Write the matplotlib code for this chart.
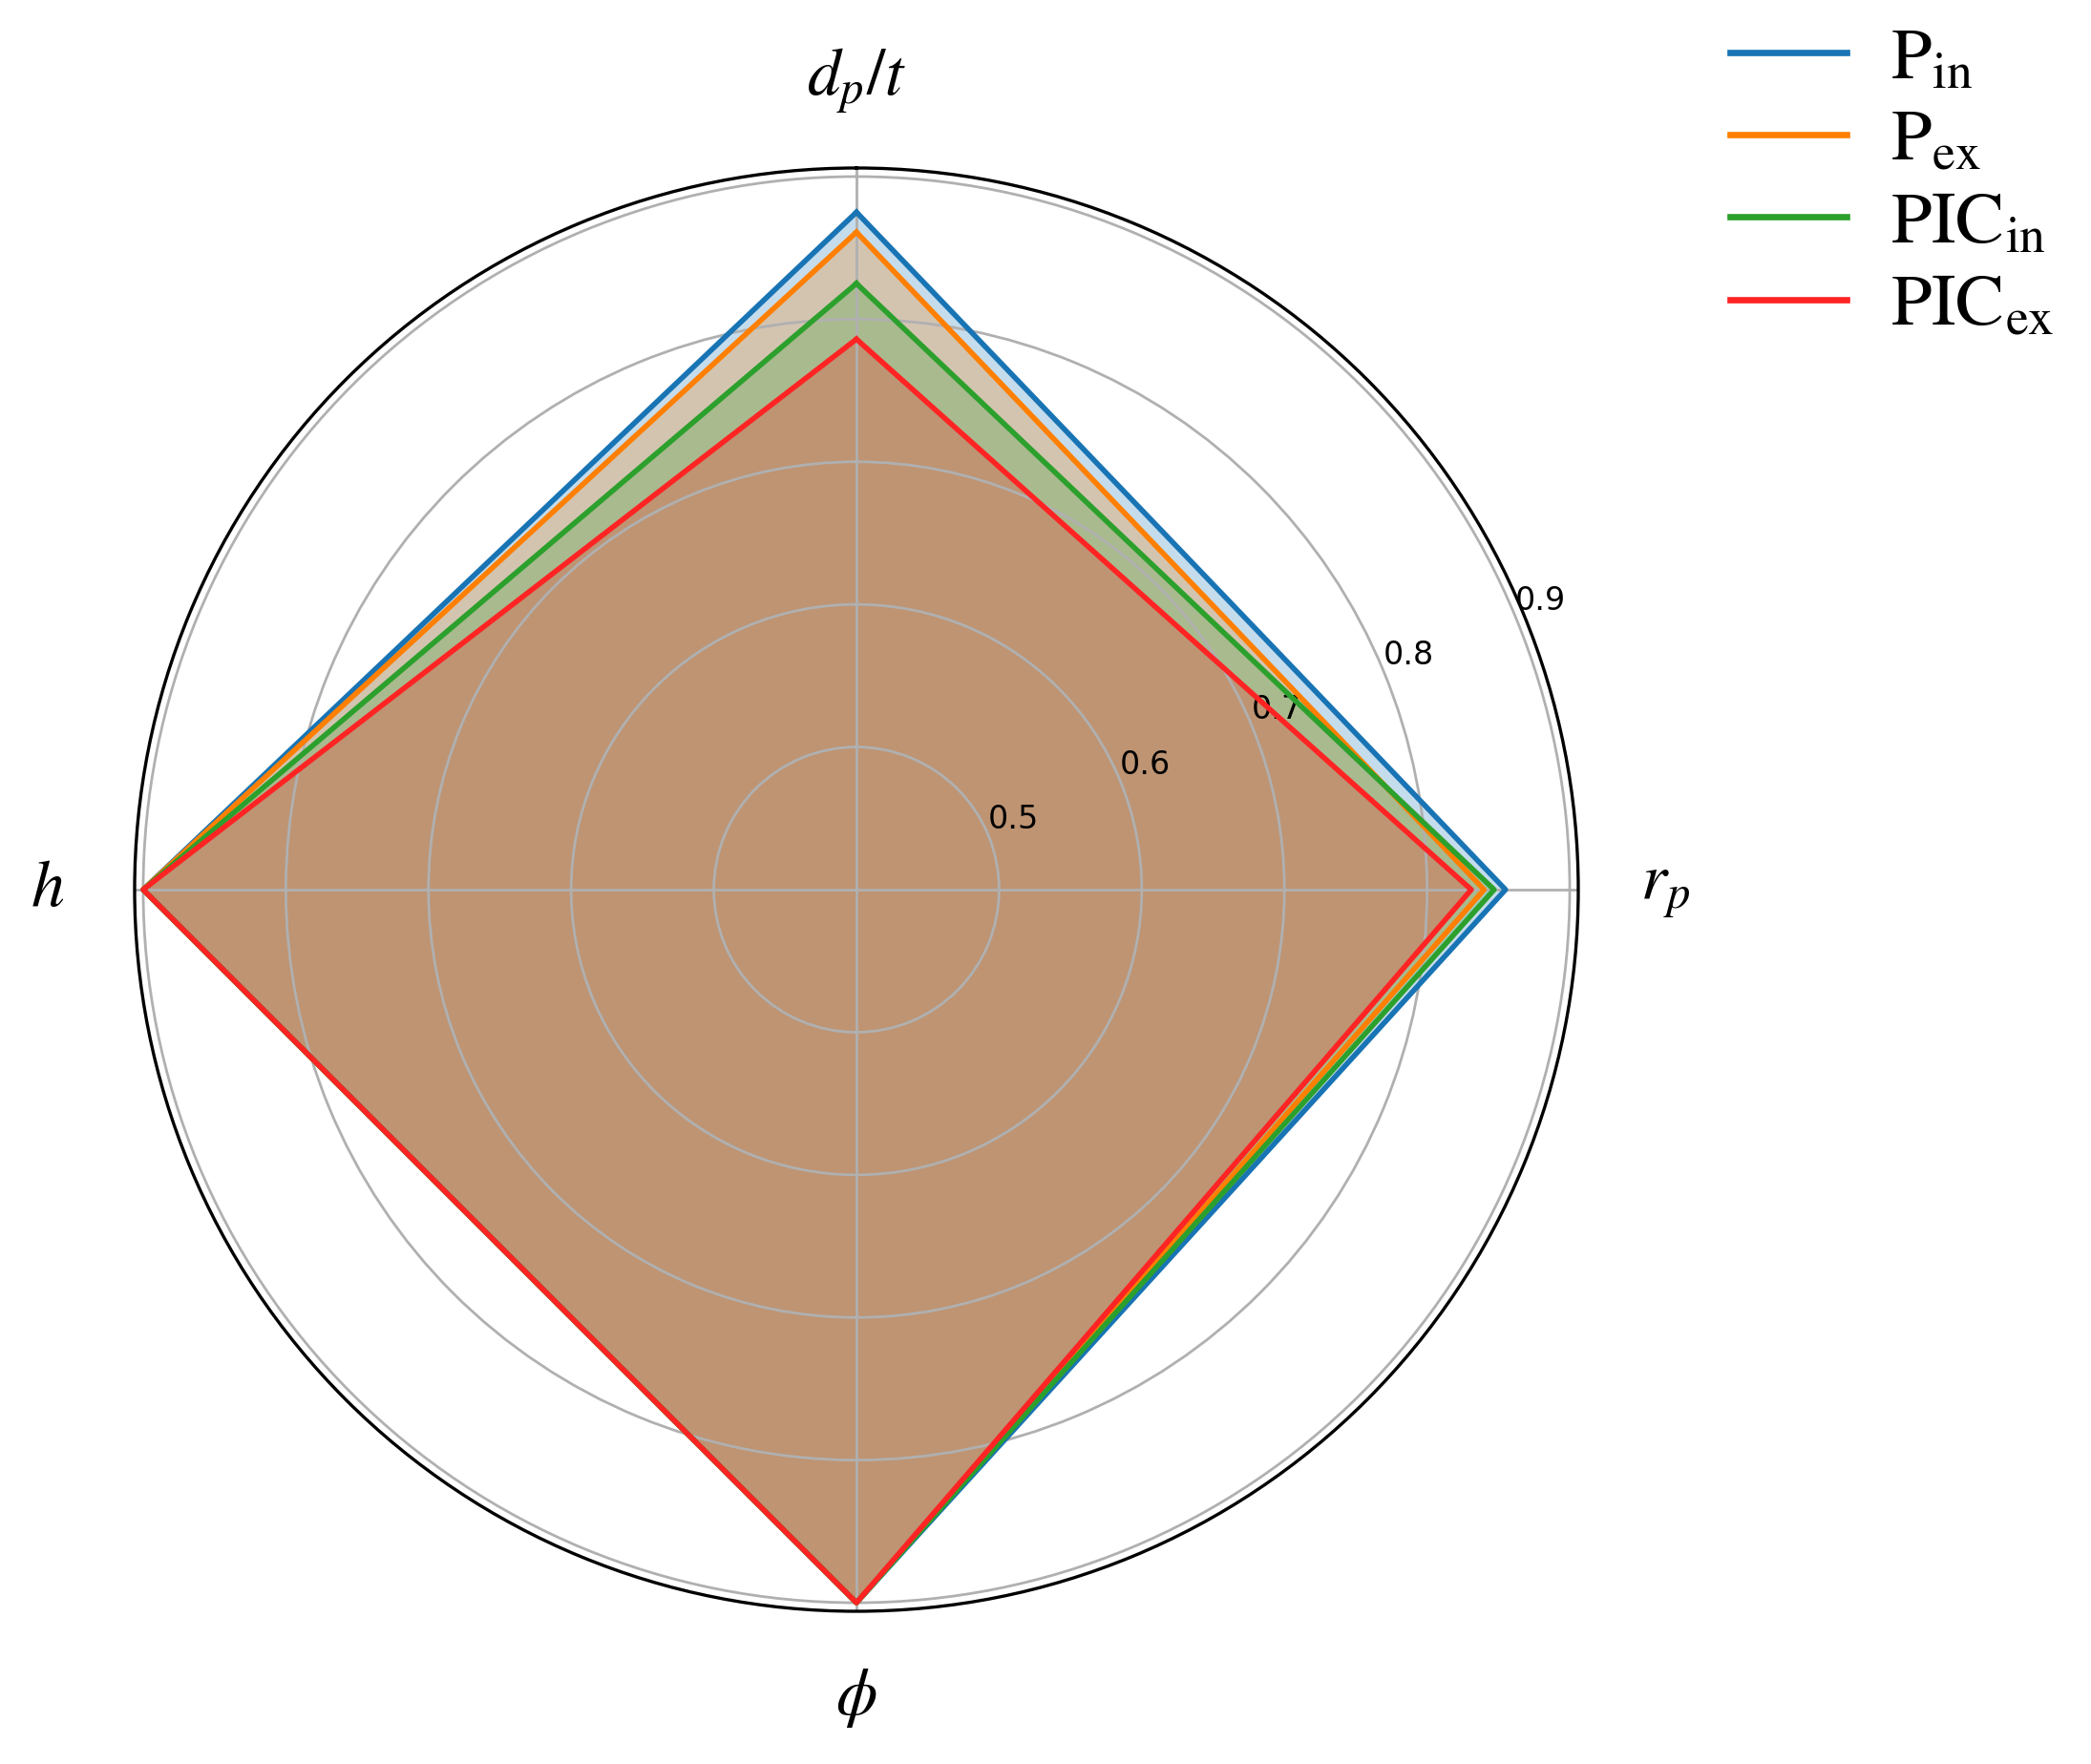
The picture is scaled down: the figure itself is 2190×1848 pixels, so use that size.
import numpy as np
import matplotlib
matplotlib.use("Agg")
from matplotlib import pyplot as plt

plt.rcParams['mathtext.fontset'] = 'stix'
plt.rcParams['font.family'] = ['Liberation Serif', 'DejaVu Serif']

# axes (clockwise from top)
categories = ['$d_p/t$', '$r_p$', '$\\phi$', '$h$']

# series values, same order as categories
series_names = ['$\\mathrm{P_{in}}$', '$\\mathrm{P_{ex}}$',
                '$\\mathrm{PIC_{in}}$', '$\\mathrm{PIC_{ex}}$']
p_in = [0.875, 0.855, 0.900, 0.900]
p_ex = [0.861, 0.840, 0.900, 0.900]
pic_in = [0.825, 0.847, 0.900, 0.900]
pic_ex = [0.786, 0.831, 0.900, 0.900]
series_values = [p_in, p_ex, pic_in, pic_ex]
colors = ['#1874b4', '#ff7f00', '#2ca02c', '#ff2424']

r_ticks = [0.5, 0.6, 0.7, 0.8, 0.9]

fig = plt.figure(figsize=(10.95, 9.24), dpi=200)
ax = fig.add_axes([141 / 2190, 160 / 1848, 1512 / 2190, 1512 / 1848], polar=True)
ax.set_theta_offset(np.pi / 2)
ax.set_theta_direction(-1)

angles = np.linspace(0, 2 * np.pi, len(categories), endpoint=False)
closed = np.concatenate([angles, angles[:1]])

for name, vals, c in zip(series_names, series_values, colors):
    v = np.concatenate([vals, vals[:1]])
    ax.plot(closed, v, color=c, lw=2, label=name)
    ax.fill(closed, v, color=c, alpha=0.25)

ax.set_ylim(0.4, 0.906)
ax.set_yticks(r_ticks)
ax.set_yticklabels([str(t) for t in r_ticks], fontsize=12, family='DejaVu Sans')
ax.set_rlabel_position(67.5)
ax.set_xticks(angles)
ax.set_xticklabels([])
ax.grid(color='#b0b0b0', lw=1.0)
ax.spines['polar'].set_linewidth(1.2)

# category labels
for ang, lab in zip(angles, categories):
    ax.text(ang, 0.967, lab, fontsize=25, ha='center', va='center')

leg = fig.legend(loc='upper left', bbox_to_anchor=(1812 / 2190, 1 - 28 / 1848),
                 frameon=False, fontsize=27.5, handlelength=1.6, handletextpad=0.6,
                 labelspacing=0.22, borderpad=0, borderaxespad=0)
for line in leg.get_lines():
    line.set_linewidth(2.4)

fig.savefig('out.png', dpi=200)
